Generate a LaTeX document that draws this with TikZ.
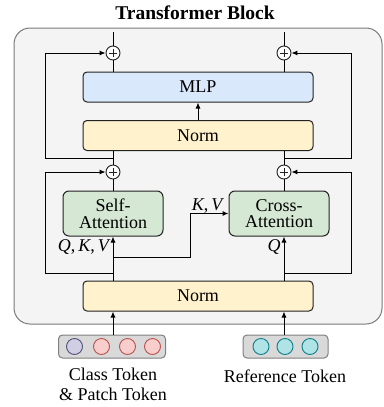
\documentclass[tikz,border=0pt]{standalone}
\usepackage{fontspec}
\setmainfont{Liberation Serif}
\usetikzlibrary{arrows.meta}

\definecolor{blockbg}{HTML}{F4F4F4}
\definecolor{blockline}{HTML}{7A7A7A}
\definecolor{mlpfill}{HTML}{DAE8FC}
\definecolor{normfill}{HTML}{FFF2CC}
\definecolor{attfill}{HTML}{D5E8D4}
\definecolor{edgeline}{HTML}{222222}
\definecolor{barfill}{HTML}{D9D9D9}
\definecolor{barline}{HTML}{7F7F7F}
\definecolor{clsfill}{HTML}{D0CEE2}
\definecolor{clsline}{HTML}{56517E}
\definecolor{patfill}{HTML}{F8CECC}
\definecolor{patline}{HTML}{B85450}
\definecolor{reffill}{HTML}{B0E3E6}
\definecolor{refline}{HTML}{0E8088}

\tikzset{
    layer/.style={draw=edgeline, rounded corners=4pt, line width=1pt, minimum width=230pt, minimum height=30pt, font=\fontsize{18}{18}\selectfont},
    attn/.style={draw=edgeline, rounded corners=6pt, line width=1pt, minimum width=100pt, minimum height=45pt, align=center, font=\fontsize{18}{16.5}\selectfont, fill=attfill},
    addop/.style={draw=edgeline, circle, line width=0.9pt, fill=white, inner sep=0pt, minimum size=14pt,
        path picture={\draw[line width=0.9pt] ([xshift=-4pt]path picture bounding box.center) -- ([xshift=4pt]path picture bounding box.center)
            ([yshift=-4pt]path picture bounding box.center) -- ([yshift=4pt]path picture bounding box.center);}},
    tokbar/.style={draw=barline, fill=barfill, rounded corners=4pt, line width=1pt, minimum height=23pt},
    tok/.style={circle, inner sep=0pt, minimum size=16pt, line width=0.9pt},
    lbl/.style={font=\fontsize{18}{20}\selectfont, align=center},
    sym/.style={inner sep=0pt, font=\fontsize{18}{18}\selectfont}
}

\begin{document}
\begin{tikzpicture}[x=1pt, y=-1pt, line width=1pt, >={Latex[length=6pt,width=5pt]}]
    \useasboundingbox (0,0) rectangle (383,407);
    \node[anchor=center, font=\fontsize{19.5}{19.5}\selectfont\bfseries] at (195,13) (title) {Transformer Block};
    \draw[fill=blockbg, draw=blockline, rounded corners=16pt] (14,28) rectangle (382,324);

    \node[layer, fill=mlpfill] at (198,87) (mlp) {MLP};
    \node[layer, fill=normfill] at (198,135.5) (normtop) {Norm};
    \node[layer, fill=normfill] at (198,296) (normbot) {Norm};
    \node[attn] at (113,213.5) (selfatt) {Self-\\Attention};
    \node[attn] at (279,213.5) (crossatt) {Cross-\\Attention};

    \node[addop] at (113,53) (addtl) {};
    \node[addop] at (284,53) (addtr) {};
    \node[addop] at (113,172) (addml) {};
    \node[addop] at (284,172) (addmr) {};

    \coordinate (outl) at (113,32);
    \coordinate (outr) at (284,32);
    \coordinate (jtl) at (113,158);
    \coordinate (jtr) at (284,158);
    \coordinate (jbl) at (113,273);
    \coordinate (jbr) at (284,273);
    \coordinate (kvj) at (113,257);

    \node[tokbar, minimum width=107pt] at (112,346.5) (ctok) {};
    \node[tok, fill=clsfill, draw=clsline] at (74.5,346.5) (c1) {};
    \node[tok, fill=patfill, draw=patline] at (101.5,346.5) (p1) {};
    \node[tok, fill=patfill, draw=patline] at (127.5,346.5) (p2) {};
    \node[tok, fill=patfill, draw=patline] at (152.5,346.5) (p3) {};
    \node[tokbar, minimum width=85pt] at (285.5,346.5) (rtok) {};
    \node[tok, fill=reffill, draw=refline] at (261,346.5) (r1) {};
    \node[tok, fill=reffill, draw=refline] at (285,346.5) (r2) {};
    \node[tok, fill=reffill, draw=refline] at (310,346.5) (r3) {};
    \node[lbl] at (113,384) (ctoklbl) {Class Token\\\& Patch Token};
    \node[lbl] at (285,376) (rtoklbl) {Reference Token};

    % residual path, top half
    \draw (addtl) -- (outl);
    \draw (addtr) -- (outr);
    \draw (mlp.north -| addtl) -- (addtl);
    \draw (mlp.north -| addtr) -- (addtr);
    \draw[->] (normtop) -- (mlp);
    \draw (normtop.south -| addml) -- (addml);
    \draw (normtop.south -| addmr) -- (addmr);
    \draw[->] (jtl) -- ++(-68,0) |- (addtl);
    \draw[->] (jtr) -- ++(67,0) |- (addtr);

    % attention half
    \draw (addml) -- (selfatt);
    \draw (addmr) -- (crossatt.north -| addmr);
    \draw[->] (normbot.north -| selfatt) -- (selfatt);
    \draw[->] (normbot.north -| addmr) -- (crossatt.south -| addmr);
    \draw[->] (kvj) -- ++(77,0) |- (crossatt);
    \draw[->] (jbl) -- ++(-68,0) |- (addml);
    \draw[->] (jbr) -- ++(67,0) |- (addmr);
    \node[sym, anchor=base east] at (111,251) (qkv) {\textit{Q},\,\textit{K},\,\textit{V}};
    \node[sym, anchor=base east] at (281,251) (qlbl) {\textit{Q}};
    \node[sym, anchor=base] at (208,210) (kvlbl) {\textit{K},\,\textit{V}};

    % token inputs
    \draw[->] (ctok.north -| addml) -- (normbot.south -| addml);
    \draw[->] (rtok.north -| addmr) -- (normbot.south -| addmr);
\end{tikzpicture}
\end{document}
